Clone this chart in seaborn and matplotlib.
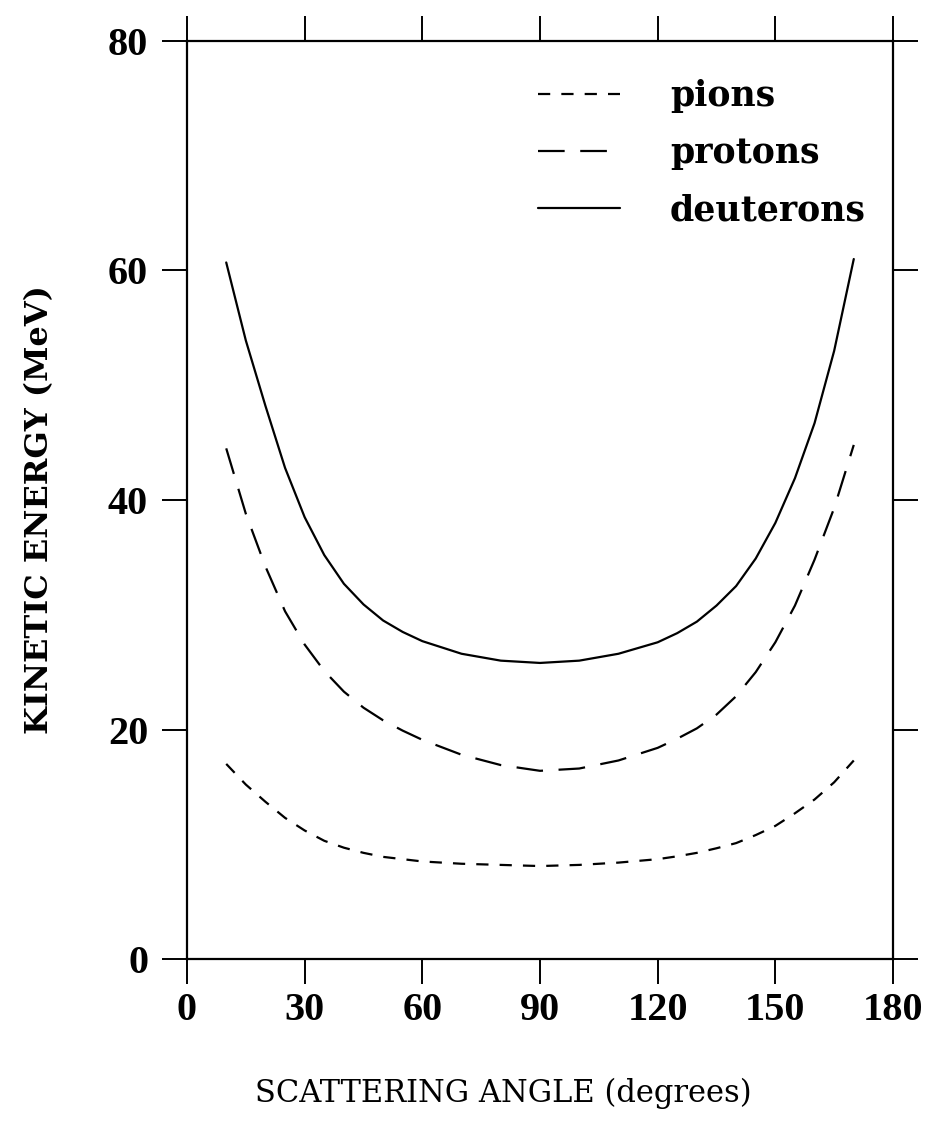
import matplotlib
matplotlib.use("Agg")
import matplotlib.pyplot as plt
import seaborn as sns
import pandas as pd

# ---- data ----
angles = [10, 15, 20, 25, 30, 35, 40, 45, 50, 55, 60, 70, 80, 90, 100, 110, 120, 125, 130, 135, 140, 145, 150, 155, 160, 165, 170]
pions = [17.0, 15.2, 13.7, 12.3, 11.2, 10.3, 9.7, 9.25, 8.9, 8.7, 8.5, 8.3, 8.2, 8.1, 8.2, 8.4, 8.7, 8.95, 9.25, 9.65, 10.1, 10.8, 11.6, 12.7, 13.9, 15.4, 17.3]
protons = [44.5, 38.8, 34.2, 30.3, 27.4, 25.1, 23.3, 21.9, 20.8, 19.9, 19.1, 17.8, 16.9, 16.4, 16.6, 17.3, 18.4, 19.2, 20.1, 21.3, 22.9, 25.0, 27.6, 30.8, 34.8, 39.3, 44.8]
deuterons = [60.7, 53.9, 48.2, 42.8, 38.5, 35.2, 32.7, 30.9, 29.5, 28.5, 27.7, 26.6, 26.0, 25.8, 26.0, 26.6, 27.6, 28.4, 29.4, 30.8, 32.5, 34.9, 38.0, 41.9, 46.7, 53.0, 61.0]

series_names = ["pions", "protons", "deuterons"]
x_ticks = [0, 30, 60, 90, 120, 150, 180]
y_ticks = [0, 20, 40, 60, 80]
x_label = "SCATTERING ANGLE (degrees)"
y_label = "KINETIC ENERGY (MeV)"

df = pd.DataFrame({
    "angle": angles * 3,
    "energy": pions + protons + deuterons,
    "particle": ["pions"] * len(angles) + ["protons"] * len(angles) + ["deuterons"] * len(angles),
})

sns.set_theme(style="ticks")
plt.rcParams["font.family"] = ["Liberation Serif", "DejaVu Serif"]
plt.rcParams["text.color"] = "black"
plt.rcParams["axes.labelcolor"] = "black"
plt.rcParams["xtick.color"] = "black"
plt.rcParams["ytick.color"] = "black"

fig = plt.figure(figsize=(9.29, 11.27), dpi=100)
ax = fig.add_axes([187 / 929, 1 - 959 / 1127, 706 / 929, 918 / 1127])

styles = {
    "pions": (0, (5.5, 5)),
    "protons": (0, (12, 7)),
    "deuterons": "-",
}
for name in series_names:
    sub = df[df["particle"] == name]
    sns.lineplot(data=sub, x="angle", y="energy", ax=ax, color="black",
                 linewidth=1.6, linestyle=styles[name], label=name, estimator=None, sort=True)

tick_font = {"family": "Liberation Serif", "weight": "bold", "size": 29}
ax.set_xlim(0, 180)
ax.set_ylim(0, 80)
ax.set_xticks(x_ticks)
ax.set_yticks(y_ticks)
ax.set_xticklabels([str(t) for t in x_ticks], fontdict=tick_font, color="black")
ax.set_yticklabels([str(t) for t in y_ticks], fontdict=tick_font, color="black")
ax.tick_params(axis="both", which="major", direction="out", length=18, width=1.4,
               top=True, right=True, labeltop=False, labelright=False, color="black")
ax.tick_params(axis="x", pad=6)
ax.tick_params(axis="y", pad=10)
for s in ax.spines.values():
    s.set_linewidth(1.6)
    s.set_color("black")

ax.set_xlabel(x_label, fontsize=22, family="DejaVu Serif", color="black")
ax.xaxis.set_label_coords((503 - 187) / 706, -(1093 - 959) / 918)
ax.xaxis.label.set_va("center")
ax.set_ylabel(y_label, fontsize=23, fontweight="bold", family="DejaVu Serif", color="black")
ax.yaxis.set_label_coords(-(187 - 40) / 706, (959 - 510) / 918)
ax.yaxis.label.set_va("center")

leg = ax.legend(loc="upper left", bbox_to_anchor=((538 - 187) / 706, (959 - 79) / 918), frameon=False,
                handlelength=2.36, handletextpad=1.44, labelspacing=0.67,
                borderpad=0, borderaxespad=0,
                prop={"weight": "bold", "size": 25, "family": "DejaVu Serif"})
for line in leg.get_lines():
    line.set_linewidth(1.6)
for t in leg.get_texts():
    t.set_color("black")

fig.savefig("out.png", dpi=100, facecolor="white")
